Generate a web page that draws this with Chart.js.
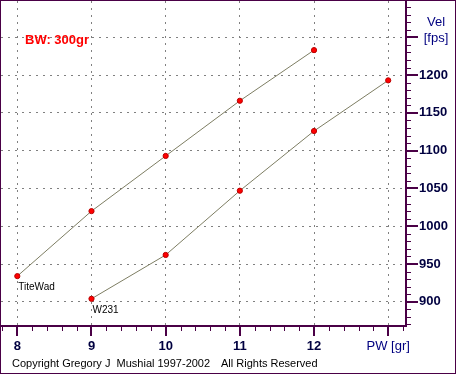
<!DOCTYPE html>
<html>
<head>
<meta charset="utf-8">
<script src="https://cdn.jsdelivr.net/npm/chart.js@4/dist/chart.umd.min.js"></script>
<style>
  html, body { margin: 0; padding: 0; background: #fff; }
  #chart { display: block; }
</style>
</head>
<body>
<canvas id="chart" width="456" height="374"></canvas>
<script>
// Powder weight (gr) vs velocity (fps), bullet weight 300gr
const titeWadPW = [8, 9, 10, 11, 12];
const titeWadVel = [934, 1020, 1093, 1166, 1233];
const w231PW = [9, 10, 11, 12, 13];
const w231Vel = [904, 962, 1047, 1126, 1193];

const xTickValues = [8, 9, 10, 11, 12, 13];
const yTickValues = [900, 950, 1000, 1050, 1100, 1150, 1200, 1250];
const xUnitLabel = 'PW [gr]';
const yUnitLabel = ['Vel', '[fps]'];
const seriesNames = ['TiteWad', 'W231'];
const titleText = 'BW: 300gr';
const copyrightLeft = 'Copyright Gregory J  Mushial 1997-2002';
const copyrightRight = 'All Rights Reserved';

const AXIS = '#4a0046';
const FONT = '"Liberation Sans", Arial, sans-serif';

/** Builds {x, y} points from two arrays. */
function toPoints(xs, ys) {
    return xs.map((x, i) => ({ x: x, y: ys[i] }));
}

/** Fixes a scale's size and drops the label overhang padding. */
function fixSize(scale, prop, size) {
    scale[prop] = size;
    scale.paddingTop = 0;
    scale.paddingBottom = 0;
    scale.paddingLeft = 0;
    scale.paddingRight = 0;
}

/** Draws axis lines, major/minor tick marks and the loose texts. */
const decorations = {
    id: 'decorations',
    afterDraw(chart) {
        const ctx = chart.ctx;
        const area = chart.chartArea;
        const xs = chart.scales.x;
        const ys = chart.scales.y;
        ctx.save();

        // axis lines
        ctx.strokeStyle = AXIS;
        ctx.lineWidth = 2;
        ctx.beginPath();
        ctx.moveTo(area.left - 1, area.bottom);
        ctx.lineTo(area.right + 1, area.bottom);
        ctx.moveTo(area.right, area.top - 1);
        ctx.lineTo(area.right, area.bottom + 1);
        ctx.stroke();

        // x ticks every 0.2
        for (let k = Math.ceil(xs.min * 5); k <= Math.floor(xs.max * 5); k++) {
            const px = Math.round(xs.getPixelForValue(k / 5));
            const major = k % 5 === 0;
            ctx.lineWidth = major ? 2 : 1;
            ctx.beginPath();
            ctx.moveTo(major ? px : px + 0.5, area.bottom);
            ctx.lineTo(major ? px : px + 0.5, area.bottom + (major ? 10 : 5));
            ctx.stroke();
        }
        // y ticks every 10
        for (let v = Math.ceil(ys.min / 10) * 10; v <= ys.max; v += 10) {
            const py = Math.round(ys.getPixelForValue(v));
            const major = v % 50 === 0;
            ctx.lineWidth = major ? 2 : 1;
            ctx.beginPath();
            ctx.moveTo(area.right, major ? py : py + 0.5);
            ctx.lineTo(area.right + (major ? 12 : 5), major ? py : py + 0.5);
            ctx.stroke();
        }

        // y unit label
        ctx.fillStyle = '#000080';
        ctx.font = '13px ' + FONT;
        ctx.textAlign = 'center';
        ctx.textBaseline = 'middle';
        ctx.fillText(yUnitLabel[0], area.right + 30, 22);
        ctx.fillText(yUnitLabel[1], area.right + 30, 38);

        // series labels under first point
        ctx.fillStyle = '#000';
        ctx.font = '10px ' + FONT;
        ctx.textAlign = 'left';
        seriesNames.forEach((name, i) => {
            const p = chart.getDatasetMeta(i).data[0];
            ctx.fillText(name, p.x + 1, p.y + 11);
        });

        // title
        ctx.fillStyle = '#ff0000';
        ctx.font = 'bold 13px ' + FONT;
        ctx.fillText(titleText, 25, 40);

        // copyright
        ctx.fillStyle = '#000';
        ctx.font = '11px ' + FONT;
        ctx.fillText(copyrightLeft, 12, 364);
        ctx.fillText(copyrightRight, 221, 364);

        // outer frame
        ctx.strokeStyle = AXIS;
        ctx.lineWidth = 1;
        ctx.strokeRect(0.5, 0.5, chart.width - 1, chart.height - 1);
        ctx.restore();
    }
};

const tickFont = (ctx, unitValue) =>
    ctx.tick && ctx.tick.value === unitValue
        ? { family: FONT, size: 13, weight: 'normal' }
        : { family: FONT, size: 13, weight: 'bold' };

new Chart(document.getElementById('chart'), {
    type: 'line',
    data: {
        datasets: [
            { label: seriesNames[0], data: toPoints(titeWadPW, titeWadVel) },
            { label: seriesNames[1], data: toPoints(w231PW, w231Vel) }
        ]
    },
    options: {
        responsive: false,
        animation: false,
        devicePixelRatio: 1,
        layout: { autoPadding: false, padding: { left: 1, top: 1, right: 0, bottom: 0 } },
        elements: {
            line: { borderColor: '#7d7d62', borderWidth: 1, tension: 0 },
            point: {
                radius: 2.6,
                borderWidth: 1,
                backgroundColor: '#ff0000',
                borderColor: '#b80000'
            }
        },
        plugins: {
            legend: { display: false },
            tooltip: { enabled: false }
        },
        scales: {
            x: {
                type: 'linear',
                min: 7.78,
                max: 13.24,
                afterBuildTicks: s => { s.ticks = xTickValues.map(v => ({ value: v })); },
                afterFit: s => fixSize(s, 'height', 48),
                grid: { color: '#808080', lineWidth: 1, drawTicks: false },
                border: { display: false, dash: [2, 5] },
                ticks: {
                    padding: 13,
                    maxRotation: 0,
                    autoSkip: false,
                    callback: v => (v === 13 ? xUnitLabel : String(v)),
                    color: c => (c.tick && c.tick.value === 13 ? '#000080' : '#000040'),
                    font: c => tickFont(c, 13)
                }
            },
            y: {
                type: 'linear',
                position: 'right',
                min: 868,
                max: 1298,
                afterBuildTicks: s => { s.ticks = yTickValues.map(v => ({ value: v })); },
                afterFit: s => fixSize(s, 'width', 50),
                grid: { color: '#808080', lineWidth: 1, drawTicks: false },
                border: { display: false, dash: [2, 5] },
                ticks: {
                    padding: 13,
                    autoSkip: false,
                    callback: v => (v === 1250 ? '' : String(v)),
                    color: '#000040',
                    font: { family: FONT, size: 13, weight: 'bold' }
                }
            }
        }
    },
    plugins: [decorations]
});
</script>
</body>
</html>
